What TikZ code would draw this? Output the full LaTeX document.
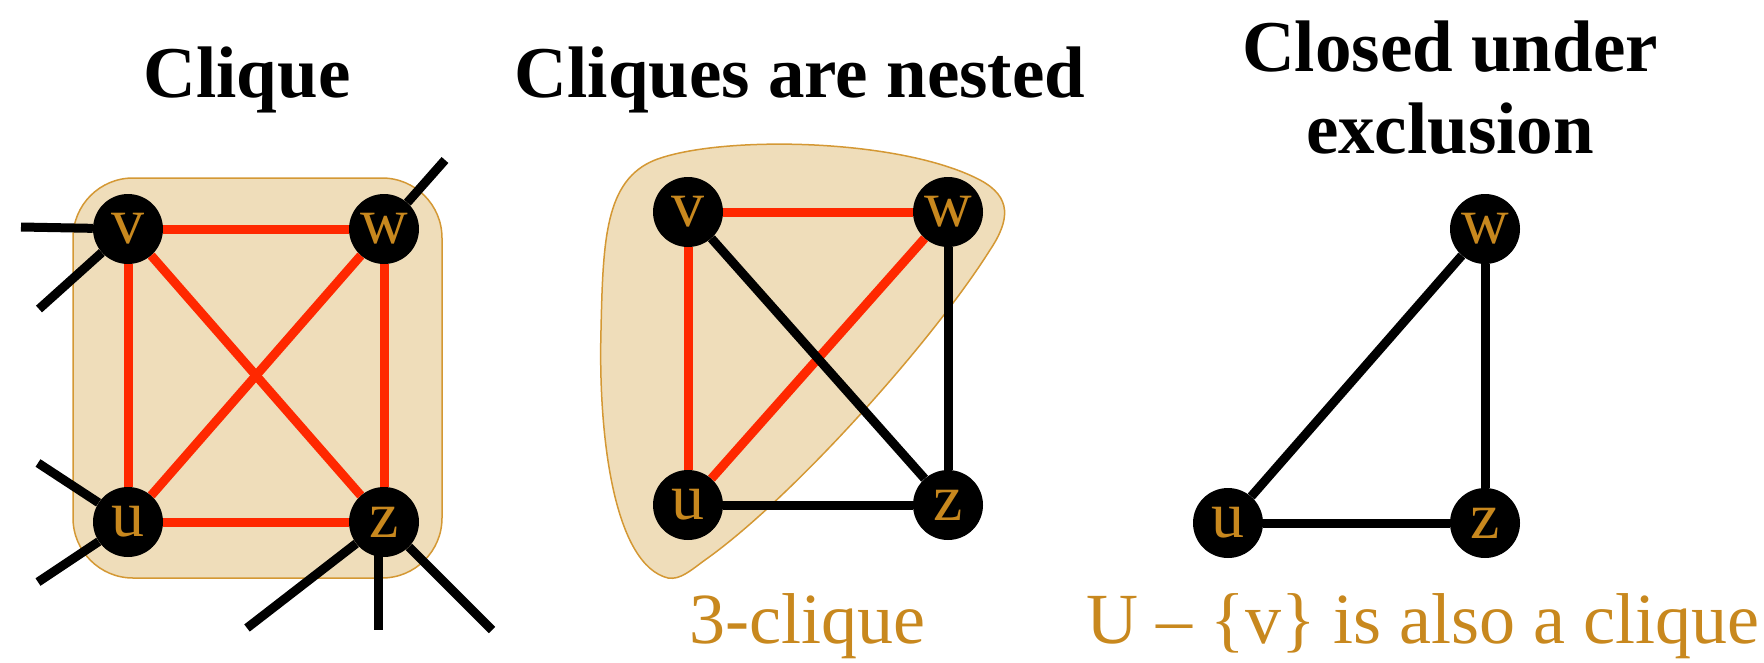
\documentclass[tikz,border=0pt]{standalone}
\usepackage{fontspec}
\setmainfont{Liberation Serif}
\usetikzlibrary{calc}
\definecolor{cliquered}{RGB}{255,40,0}
\definecolor{cliquetan}{RGB}{239,221,186}
\definecolor{cliquegold}{RGB}{200,136,30}
\definecolor{rimgold}{RGB}{212,152,52}
\pgfdeclarelayer{bg}
\pgfsetlayers{bg,main}
\tikzset{
  vertex/.style={circle, fill=black, minimum size=70pt, inner sep=0pt,
    text=cliquegold, font=\fontsize{66}{66}\selectfont},
  title/.style={anchor=base, align=center, font=\fontsize{73}{82}\selectfont\bfseries},
  caption/.style={anchor=base, text=cliquegold, font=\fontsize{72}{80}\selectfont},
  inedge/.style={line width=9pt, draw=cliquered},
  outedge/.style={line width=9pt, draw=black},
  hull/.style={fill=cliquetan, draw=rimgold, line width=1.5pt}
}

\begin{document}
\begin{tikzpicture}[x=1pt, y=-1pt]
  \useasboundingbox (0,0) rectangle (1764,662);

  % titles
  \node[title] (t1) at (247,97) {Clique};
  \node[title] (t2) at (800,97) {Cliques are nested};
  \node[title] (t3) at (1450,153) {Closed under\\exclusion};

  % clique
  \node[vertex] (v1) at (128,229) {v};
  \node[vertex] (w1) at (384,229) {w};
  \node[vertex] (u1) at (128,522) {u};
  \node[vertex] (z1) at (384,522) {z};

  \coordinate (v1a) at (21,227);
  \coordinate (v1b) at (39,309);
  \coordinate (w1a) at (445,160);
  \coordinate (u1a) at (38,463);
  \coordinate (u1b) at (38,582);
  \coordinate (z1a) at (247,628);
  \coordinate (z1b) at (378,630);
  \coordinate (z1c) at (492,630);

  \begin{pgfonlayer}{bg}
    \draw[hull, rounded corners=60pt] (73,178) rectangle (442,578);
    \foreach \a/\b in {v1/w1, v1/u1, v1/z1, w1/u1, w1/z1, u1/z1}
      \draw[inedge] (\a) -- (\b);
    \foreach \n/\e in {v1/v1a, v1/v1b, w1/w1a, u1/u1a, u1/u1b, z1/z1a, z1/z1c}
      \draw[outedge] (\n) -- (\e);
    \draw[outedge] (z1 -| z1b) -- (z1b);
  \end{pgfonlayer}

  % nested
  \node[vertex] (v2) at (688,212) {v};
  \node[vertex] (w2) at (948,212) {w};
  \node[vertex] (u2) at (688,505) {u};
  \node[vertex] (z2) at (948,505) {z};

  \begin{pgfonlayer}{bg}
    \draw[hull] (668,578) .. controls (615,565) and (598,440) .. (601,330)
      .. controls (603,240) and (605,180) .. (655,160)
      .. controls (720,135) and (900,138) .. (980,180)
      .. controls (1012,197) and (1010,220) .. (990,250)
      .. controls (930,345) and (790,500) .. (705,560)
      .. controls (690,571) and (680,580) .. (668,578) -- cycle;
    \foreach \a/\b in {v2/w2, v2/u2, u2/w2}
      \draw[inedge] (\a) -- (\b);
    \foreach \a/\b in {v2/z2, w2/z2, u2/z2}
      \draw[outedge] (\a) -- (\b);
  \end{pgfonlayer}
  \node[caption] (c2) at (807,643) {3-clique};

  % exclusion
  \node[vertex] (w3) at (1485,229) {w};
  \node[vertex] (u3) at (1228,523) {u};
  \node[vertex] (z3) at (1485,523) {z};

  \begin{pgfonlayer}{bg}
    \foreach \a/\b in {u3/w3, w3/z3, u3/z3}
      \draw[outedge] (\a) -- (\b);
  \end{pgfonlayer}
  \node[caption] (c3) at (1423,643) {U – \{v\} is also a clique};

\end{tikzpicture}
\end{document}
